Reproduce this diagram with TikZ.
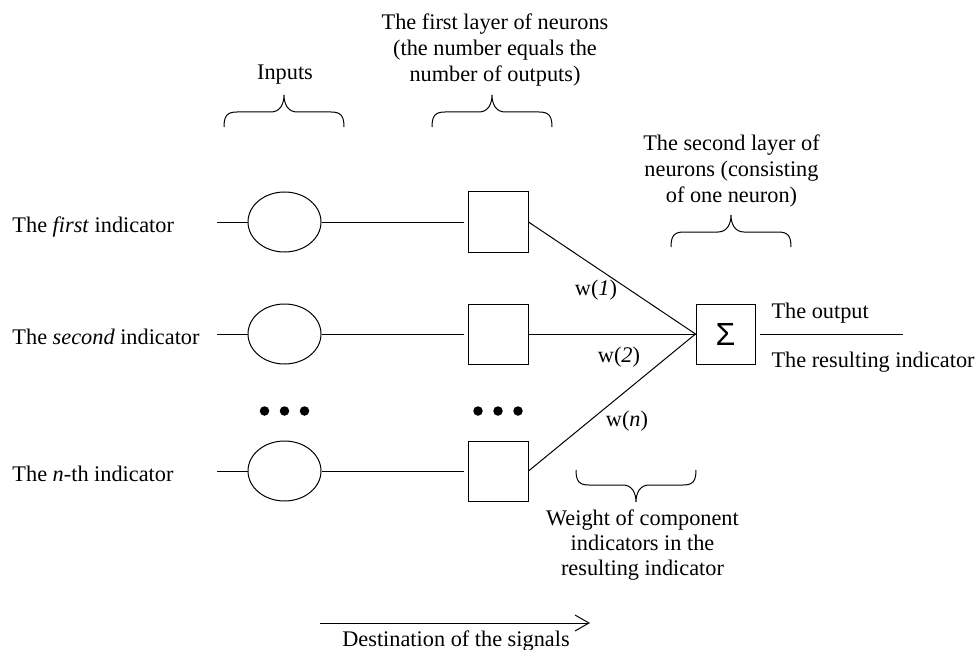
\documentclass[tikz,border=0pt]{standalone}
\usepackage{fontspec}
\setmainfont{Liberation Serif}
\newfontfamily\sigmafont{Liberation Sans}
\usetikzlibrary{arrows.meta,shapes.geometric}
\tikzset{
  hbrace/.pic={\draw (-60,16) .. controls (-60,5) and (-57,1) .. (-47,1) -- (-13,1) .. controls (-4,1) and (0,-7) .. (0,-16) .. controls (0,-7) and (4,1) .. (13,1) -- (47,1) .. controls (57,1) and (60,5) .. (60,16);}
}
\begin{document}
\begin{tikzpicture}[x=1pt,y=-1pt,line width=1pt,
  txt/.style={font=\fontsize{22.3}{26}\selectfont, inner sep=0pt},
  inp/.style={draw, ellipse, minimum width=73pt, minimum height=60pt, inner sep=0pt},
  neu/.style={draw, rectangle, minimum width=60pt, minimum height=60pt, inner sep=0pt},
  dotn/.style={circle, fill, minimum size=9.5pt, inner sep=0pt, draw=none},
  gap/.style={shorten >=4pt}
]
\useasboundingbox (0,0) rectangle (975,650);

% input ellipses
\node[inp] (e1) at (284.5,222) {};
\node[inp] (e2) at (284.5,334) {};
\node[inp] (en) at (284.5,471) {};
% first layer boxes
\node[neu] (b1) at (498,222) {};
\node[neu] (b2) at (498,334) {};
\node[neu] (bn) at (498,471) {};
% sigma
\node[neu, minimum width=59pt] (s) at (725.5,334) {\sigmafont\fontsize{32}{32}\selectfont Σ};

% free ends
\coordinate (i1) at (217,222);
\coordinate (i2) at (217,334);
\coordinate (in) at (217,471);
\coordinate (out) at (903,334);

\draw (i1) -- (e1.west);
\draw (i2) -- (e2.west);
\draw (in) -- (en.west);
\draw[gap] (e1) -- (b1);
\draw[gap] (e2) -- (b2);
\draw[gap] (en) -- (bn);
\draw (b1.east) -- (s.west);
\draw (b2.east) -- (s.west);
\draw (bn.east) -- (s.west);
\draw[shorten <=4pt] (s.east) -- (out);

% dots
\node[dotn] (d1) at (264.5,411) {};
\node[dotn] (d2) at (284.5,411) {};
\node[dotn] (d3) at (304.5,411) {};
\node[dotn] (d4) at (478,411) {};
\node[dotn] (d5) at (498,411) {};
\node[dotn] (d6) at (518,411) {};

% left labels
\node[txt, anchor=base west] (t1) at (12,232) {The \textit{first} indicator};
\node[txt, anchor=base west] (t2) at (12,344) {The \textit{second} indicator};
\node[txt, anchor=base west] (tn) at (12,481) {The \textit{n}-th indicator};

% headers
\node[txt, anchor=base] (hin) at (285,80) {Inputs};
\node[txt, anchor=base] (hfa) at (495,30) {The first layer of neurons};
\node[txt, anchor=base] (hfb) at (495,56) {(the number equals the};
\node[txt, anchor=base] (hfc) at (495,82) {number of outputs)};
\node[txt, anchor=base] (hsa) at (731.5,150) {The second layer of};
\node[txt, anchor=base] (hsb) at (731.5,176) {neurons (consisting};
\node[txt, anchor=base] (hsc) at (731.5,202) {of one neuron)};

% braces
\pic at (284,111) {hbrace};
\pic at (492,111) {hbrace};
\pic at (731,231) {hbrace};
\pic[yscale=-1] at (636,486) {hbrace};

% weights
\node[txt, anchor=base] (w1) at (596,295) {w(\textit{1})};
\node[txt, anchor=base] (w2) at (619,362) {w(\textit{2})};
\node[txt, anchor=base] (wn) at (627,426) {w(\textit{n})};

\node[txt, anchor=base] (wta) at (642.5,525) {Weight of component};
\node[txt, anchor=base] (wtb) at (642.5,550) {indicators in the};
\node[txt, anchor=base] (wtc) at (642.5,575) {resulting indicator};

% output
\node[txt, anchor=base west] (o1) at (771,318) {The output};
\node[txt, anchor=base west] (o2) at (771,367) {The resulting indicator};

% destination arrow
\coordinate (a0) at (320,623);
\coordinate (a1) at (590,623);
\draw[-{Straight Barb[length=14pt,width=16pt]}] (a0) -- (a1);
\node[txt, anchor=base] (dest) at (456,646) {Destination of the signals};
\end{tikzpicture}
\end{document}
